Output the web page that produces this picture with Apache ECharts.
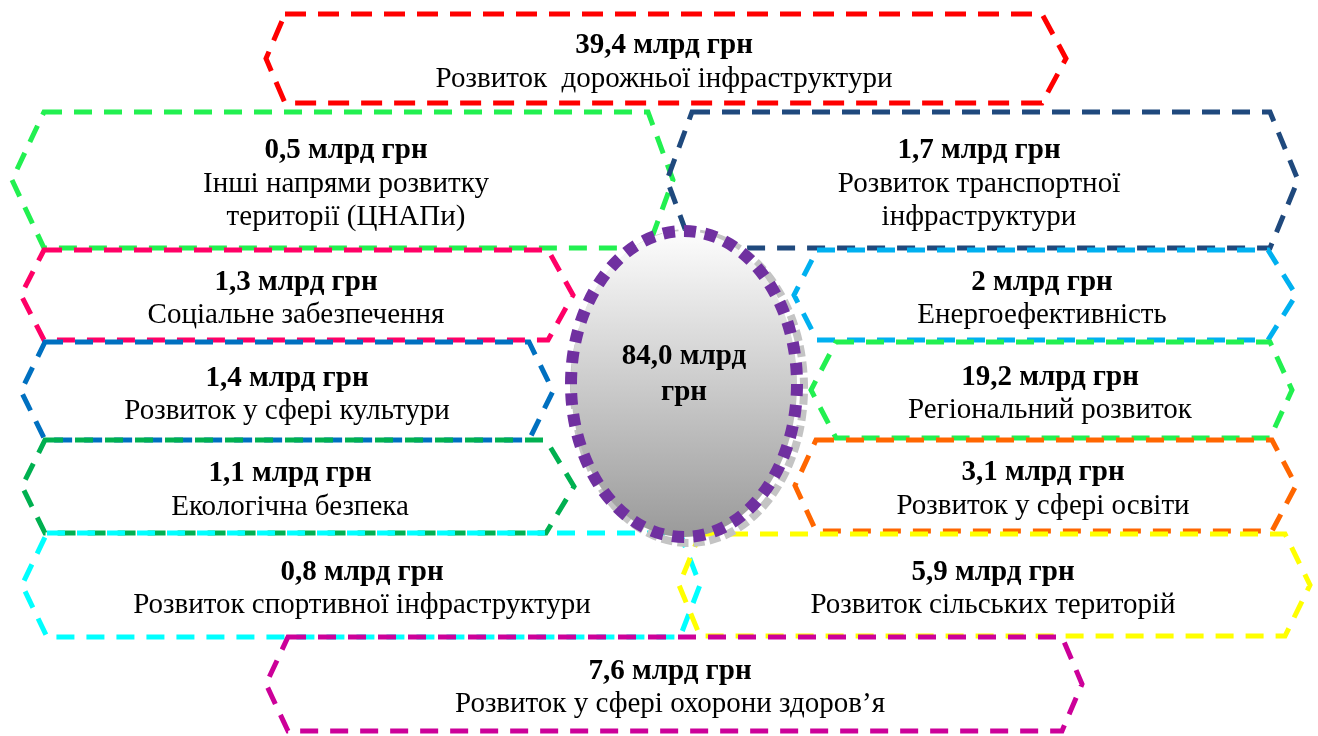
<!DOCTYPE html>
<html>
<head>
<meta charset="utf-8">
<script src="https://cdn.jsdelivr.net/npm/echarts@6/dist/echarts.min.js"></script>
<style>
  html, body { margin: 0; padding: 0; background: #ffffff; }
  #main { width: 1318px; height: 736px; }
</style>
</head>
<body>
<div id="main"></div>
<script>
// Funding by direction, billion UAH
const directions = [
  ['Розвиток  дорожньої інфраструктури'],
  ['Інші напрями розвитку', 'території (ЦНАПи)'],
  ['Розвиток транспортної', 'інфраструктури'],
  ['Соціальне забезпечення'],
  ['Розвиток у сфері культури'],
  ['Екологічна безпека'],
  ['Розвиток спортивної інфраструктури'],
  ['Енергоефективність'],
  ['Регіональний розвиток'],
  ['Розвиток у сфері освіти'],
  ['Розвиток сільських територій'],
  ['Розвиток у сфері охорони здоров’я']
];
const amounts = [39.4, 0.5, 1.7, 1.3, 1.4, 1.1, 0.8, 2, 19.2, 3.1, 5.9, 7.6];
const unit = 'млрд грн';

// Outline colour of each direction's frame
const frameColors = [
  '#ff0000', '#22f050', '#1f497d', '#ff0066', '#0070c0', '#00b050',
  '#00ffff', '#00b0f0', '#22f050', '#ff6600', '#ffff00', '#cc0099'
];

// Frame geometry in page units: [leftTip, topLeft, topRight, rightTip, top, bottom, textX]
const frames = [
  [266, 285, 1042, 1066, 14, 103, 664],
  [12, 44, 648, 673, 112, 248, 346],
  [667, 692, 1270, 1298, 112, 248, 979],
  [21, 44, 548, 573, 250, 340, 296],
  [21, 45, 529, 553, 342, 440, 287],
  [22, 45, 546, 574, 440, 533, 290],
  [22, 47, 680, 700, 533, 637, 362],
  [794, 817, 1268, 1296, 250, 340, 1042],
  [811, 836, 1270, 1292, 342, 438, 1050],
  [795, 816, 1272, 1296, 440, 531, 1043],
  [679, 700, 1285, 1310, 534, 636, 993],
  [266, 288, 1062, 1082, 637, 731, 670]
];
// Central total: centre and radii
const hub = { cx: 684, cy: 384, rx: 113, ry: 153 };

const total = amounts.reduce((s, v) => s + v, 0);
function fmt(v, keepDecimal) {
  const s = (Number.isInteger(v) && !keepDecimal) ? String(v) : v.toFixed(1);
  return s.replace('.', ',');
}

const FONT = '"Liberation Serif", "Times New Roman", serif';
const SIZE = 29;
const LINE = 33;

const chart = echarts.init(document.getElementById('main'), null, { renderer: 'canvas' });

function textEl(x, y, str, bold) {
  return {
    type: 'text',
    style: {
      text: str, x: x, y: y,
      font: (bold ? 'bold ' : '') + SIZE + 'px ' + FONT,
      fill: '#000000',
      textAlign: 'center', textVerticalAlign: 'middle',
      align: 'center', verticalAlign: 'middle'
    }
  };
}

function renderFrame(params, api) {
  const i = params.dataIndex;
  const f = frames[i];
  const mid = (f[4] + f[5]) / 2;
  const pts = [
    [f[1], f[4]], [f[2], f[4]], [f[3], mid], [f[2], f[5]], [f[1], f[5]], [f[0], mid]
  ].map(p => api.coord(p));
  const lines = [fmt(api.value(1), false) + ' ' + unit].concat(directions[i]);
  const c = api.coord([f[6], mid + 4]);
  const y0 = c[1] - (lines.length - 1) * LINE / 2;
  const children = [{
    type: 'polygon',
    shape: { points: pts },
    style: {
      fill: 'rgba(255,255,255,0)',
      stroke: frameColors[i],
      lineWidth: 5,
      lineDash: i === 0 ? [21, 12] : [18, 12]
    }
  }];
  lines.forEach((t, k) => children.push(textEl(c[0], y0 + k * LINE, t, k === 0)));
  return { type: 'group', children: children };
}

function renderHub(params, api) {
  const c = api.coord([hub.cx, hub.cy]);
  const e = api.coord([hub.cx + hub.rx, hub.cy + hub.ry]);
  const rx = e[0] - c[0], ry = e[1] - c[1];
  const lines = [fmt(api.value(1), true) + ' млрд', 'грн'];
  return {
    type: 'group',
    children: [
      {
        type: 'ellipse',
        shape: { cx: c[0] + 5, cy: c[1] + 4, rx: rx + 2, ry: ry + 2 },
        style: { fill: 'none', stroke: '#c4c4c4', lineWidth: 8, lineDash: [11, 5] }
      },
      {
        type: 'ellipse',
        shape: { cx: c[0], cy: c[1], rx: rx, ry: ry },
        style: {
          fill: new echarts.graphic.LinearGradient(0, 0, 0, 1, [
            { offset: 0, color: '#ffffff' },
            { offset: 1, color: '#989898' }
          ]),
          stroke: '#7030a0', lineWidth: 12, lineDash: [12, 9]
        }
      },
      textEl(c[0], c[1] - 27, lines[0], true),
      textEl(c[0], c[1] + 9, lines[1], true)
    ]
  };
}

chart.setOption({
  backgroundColor: '#ffffff',
  animation: false,
  grid: { left: 0, right: 0, top: 0, bottom: 0 },
  xAxis: { type: 'value', min: 0, max: 1318, show: false },
  yAxis: { type: 'value', min: 0, max: 736, inverse: true, show: false },
  series: [
    {
      type: 'custom',
      clip: false,
      renderItem: renderFrame,
      data: amounts.map((v, i) => [i, v]),
      z: 2
    },
    {
      type: 'custom',
      clip: false,
      renderItem: renderHub,
      data: [[0, total]],
      z: 5
    }
  ]
});
</script>
</body>
</html>
